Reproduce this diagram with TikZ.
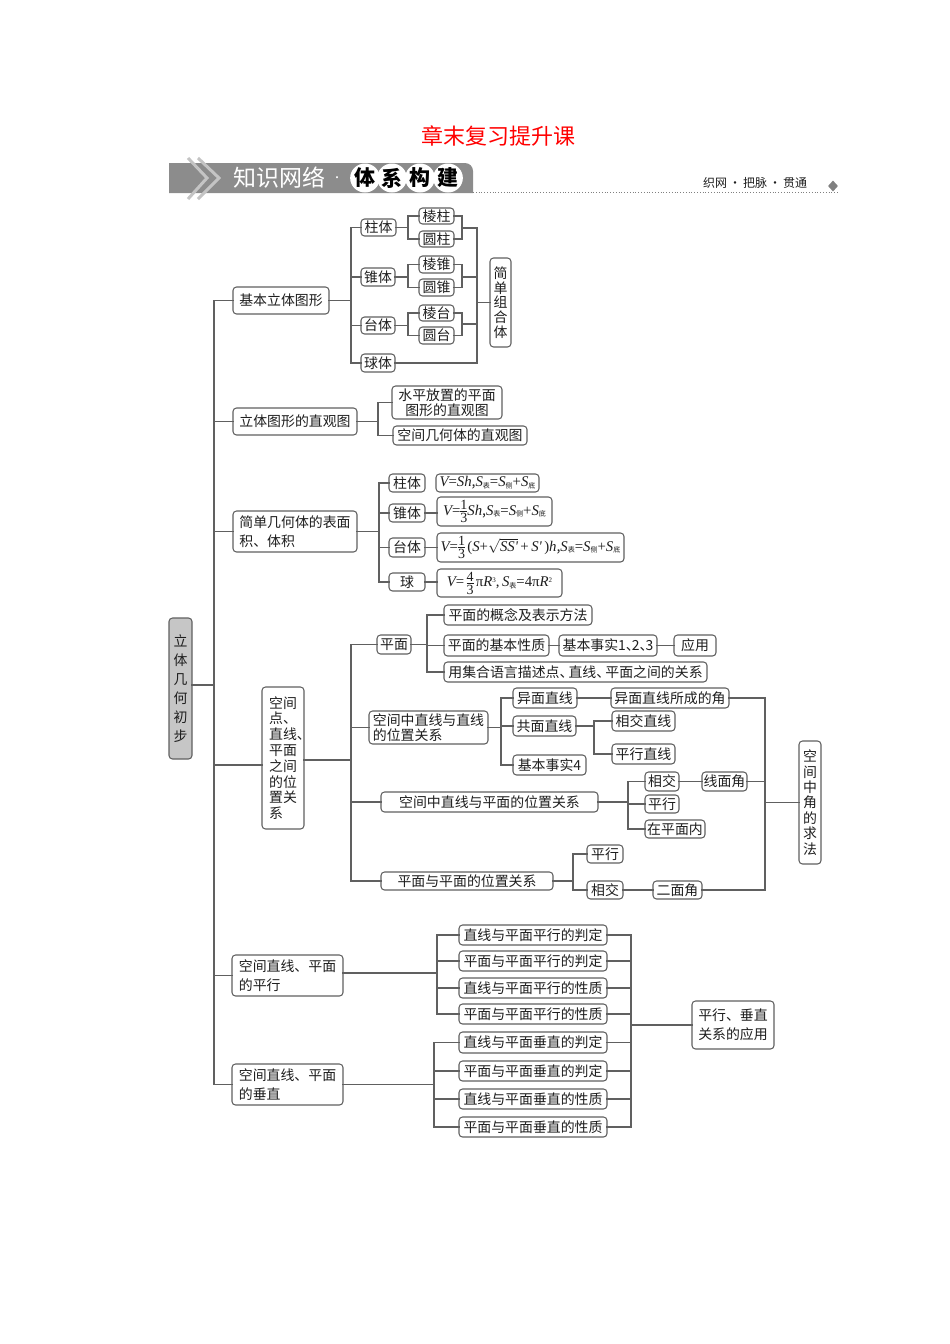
\documentclass[tikz,border=0pt]{standalone}
\usepackage{fontspec}
\setmainfont{Noto Sans CJK SC}
\newfontfamily\lsr{Liberation Serif}
\usetikzlibrary{shapes.geometric}
\definecolor{lnc}{HTML}{606060}
\definecolor{bandc}{HTML}{8C8C8C}
\definecolor{chevc}{HTML}{C4C4C4}
\definecolor{txc}{HTML}{1E1E1E}
\tikzset{
  ln/.style={draw=lnc,line width=1.05pt,line cap=rect},
  boxn/.style={draw=lnc,line width=1.05pt,rounded corners=3.5pt,inner sep=0pt,outer sep=0pt,text=txc,
     font=\fontsize{13.9}{16}\selectfont,fill=white},
  hdr/.style={text=white,font=\fontsize{23}{25}\selectfont,inner sep=0pt},
  bead/.style={ellipse,fill=white,inner sep=0pt,minimum width=26pt,minimum height=29pt,text=black,font=\bfseries\fontsize{21}{23}\selectfont},
}
\newcommand\bx[6][]{\node[boxn,#1,minimum width={(#4-#2)*1pt},minimum height={(#5-#3)*1pt}] (#6) at ({(#2+#4)/2},{(#3+#5)/2})}
\newcommand\fork[5]{%
  \draw[ln] (#1) -- (#1 -| #2);
  \foreach \c in {#3} {\draw[ln] (\c) -- (\c -| #2);}
  \draw[ln] (#4 -| #2) -- (#5 -| #2);}
\newcommand\zs[1]{\raisebox{-1.8pt}{\fontsize{7}{7}\selectfont #1}}
\newcommand\mv[1]{{\lsr\itshape\fontsize{14.8}{16}\selectfont #1}}
\newcommand\mr[1]{{\lsr\fontsize{14.8}{16}\selectfont #1}}
\newcommand\frd[1]{{\lsr\fontsize{14}{14}\selectfont #1}}
\newcommand\frc[2]{$\vcenter{\offinterlineskip\halign{\hfil##\hfil\cr\rule{0pt}{9.8pt}\frd{#1}\cr\noalign{\vskip1.4pt\hrule height .6pt\vskip1.4pt}\rule{0pt}{9.8pt}\frd{#2}\cr}}$}
\newcommand\dn{\makebox[9pt][l]{、}}
\begin{document}
\begin{tikzpicture}[x=1pt,y=-1pt]
\useasboundingbox (0,0) rectangle (950,1344);
% title and banner
\node[text=red,font=\fontsize{22}{24}\selectfont,inner sep=0pt] (title) at (498,136) {章末复习提升课};
\path[fill=bandc] (169,163) -- (465,163) arc[start angle=270,end angle=360,radius=8] -- (473,193) -- (169,193) -- cycle;
\draw[chevc,line width=3pt] (188,158) -- (207,178) -- (188,199);
\draw[chevc,line width=3pt] (198,158) -- (219,178) -- (198,199);
\draw[gray,line width=.8pt,dotted] (473,192) -- (838,192);
\node[hdr] (h1) at (279,178) {知识网络};
\node[hdr,font=\fontsize{10}{10}\selectfont] (h2) at (337,179) {·};
\node[bead] (b1) at (365,178) {体};
\node[bead] (b2) at (392,178) {系};
\node[bead] (b3) at (420,178) {构};
\node[bead] (b4) at (448,178) {建};
\node[inner sep=0pt,font=\fontsize{12}{12}\selectfont,text=txc] (sl) at (755,183) {织网\,·\,把脉\,·\,贯通};
\node[diamond,fill=gray,inner sep=0pt,minimum width=10pt,minimum height=11pt] (dm) at (833,186) {};
% root
\bx[fill=gray!45]{169}{618}{192}{759}{root}[align=center,font=\fontsize{13.9}{19}\selectfont]{立\\体\\几\\何\\初\\步};
% section 1
\bx{233}{287}{329}{314}{jb}{基本立体图形};
\bx{361}{219}{396}{236}{zt}{柱体};
\bx{419}{208}{454}{224}{lz}{棱柱};
\bx{419}{231}{454}{247}{yz}{圆柱};
\bx{361}{268}{395}{286}{zh}{锥体};
\bx{419}{256}{454}{273}{lh}{棱锥};
\bx{419}{279}{454}{296}{yh}{圆锥};
\bx{361}{317}{395}{334}{tt}{台体};
\bx{419}{305}{454}{321}{lt}{棱台};
\bx{419}{327}{454}{344}{yt}{圆台};
\bx{361}{354}{395}{372}{qt}{球体};
\bx{490}{258}{511}{347}{jd}[align=center,font=\fontsize{13.9}{14.6}\selectfont]{简\\单\\组\\合\\体};
\coordinate (a1) at (351,0);
\coordinate (a2) at (408,0);
\coordinate (a3) at (462,0);
\coordinate (a4) at (477,0);
\coordinate (m) at (214,0);
\fork{jb.east}{a1}{zt.west,zh.west,tt.west,qt.west}{zt.west}{qt.west}
\fork{zt.east}{a2}{lz.west,yz.west}{lz.west}{yz.west}
\fork{zh.east}{a2}{lh.west,yh.west}{lh.west}{yh.west}
\fork{tt.east}{a2}{lt.west,yt.west}{lt.west}{yt.west}
\coordinate (j1) at (462,228);
\coordinate (j2) at (462,277);
\coordinate (j3) at (462,324);
\fork{j1}{a3}{lz.east,yz.east}{lz.east}{yz.east}
\fork{j2}{a3}{lh.east,yh.east}{lh.east}{yh.east}
\fork{j3}{a3}{lt.east,yt.east}{lt.east}{yt.east}
\fork{jd.west}{a4}{j1,j2,j3,qt.east}{j1}{qt.east}
% section 2
\bx{233}{408}{357}{435}{zg}{立体图形的直观图};
\bx{392}{386}{502}{419}{sp}[align=center,font=\fontsize{13.9}{15.5}\selectfont]{水平放置的平面\\图形的直观图};
\bx{393}{426}{527}{445}{kj}{空间几何体的直观图};
\coordinate (a5) at (378,0);
\fork{zg.east}{a5}{sp.west,kj.west}{sp.west}{kj.west}
% section 3
\bx{233}{511}{357}{552}{jj}[align=left,font=\fontsize{13.9}{19}\selectfont]{简单几何体的表面\\积、体积};
\bx{389}{474}{425}{492}{z2}{柱体};
\bx{389}{504}{425}{522}{h2b}{锥体};
\bx{389}{538}{425}{557}{t2}{台体};
\bx{389}{573}{425}{591}{q2}{球};
\bx{436}{474}{539}{492}{f1}{\mv{V}\mr{=}\mv{Sh},\mv{S}\zs{表}\mr{=}\mv{S}\zs{侧}\mr{+}\mv{S}\zs{底}};
\bx{437}{497}{552}{526}{f2}{\mv{V}\mr{=}\frc{1}{3}\mv{Sh},\mv{S}\zs{表}\mr{=}\mv{S}\zs{侧}\mr{+}\mv{S}\zs{底}};
\bx{437}{533}{624}{562}{f3}{\mv{V}\mr{=}\frc{1}{3}\,\mr{(}\mv{S}\mr{+}$\sqrt{\mbox{\mv{SS'}}}$\mr{\,+\,}\mv{S'}\mr{\,)}\mv{h},\mv{S}\zs{表}\mr{=}\mv{S}\zs{侧}\mr{+}\mv{S}\zs{底}};
\bx{437}{569}{562}{597}{f4}{\mv{V}\mr{=}\,\frc{4}{3}\,\mr{π}\mv{R}\raisebox{4.5pt}{\fontsize{7}{7}\selectfont\lsr 3}\mr{,\,}\mv{S}\zs{表}\mr{=4π}\mv{R}\raisebox{4.5pt}{\fontsize{7}{7}\selectfont\lsr 2}};
\coordinate (a6) at (379,0);
\fork{jj.east}{a6}{z2.west,h2b.west,t2.west,q2.west}{z2.west}{q2.west}
\draw[ln] (h2b.east) -- (h2b.east -| f2.west);
\draw[ln] (t2.east) -- (t2.east -| f3.west);
\draw[ln] (q2.east) -- (q2.east -| f4.west);
% section 4
\bx{262}{687}{304}{829}{kd}[align=left,font=\fontsize{13.9}{15.8}\selectfont]{空间\\点\rlap{、}\\直线\rlap{、}\\平面\\之间\\的位\\置关\\系};
\bx{377}{635}{411}{654}{pm}{平面};
\bx{444}{605}{592}{625}{gn}{平面的概念及表示方法};
\bx{444}{635}{549}{656}{xz}{平面的基本性质};
\bx{444}{662}{707}{682}{jh}{用集合语言描述点\dn 直线\dn 平面之间的关系};
\bx{559}{635}{657}{656}{ss}{基本事实1\makebox[6pt][l]{、}2\makebox[6pt][l]{、}3};
\bx{674}{635}{716}{656}{yy}{应用};
\bx{369}{711}{488}{744}{zz}[align=left,font=\fontsize{13.9}{14.5}\selectfont]{空间中直线与直线\\的位置关系};
\bx{513}{688}{577}{708}{ym}{异面直线};
\bx{513}{716}{576}{736}{gm}{共面直线};
\bx{513}{755}{586}{775}{s4}{基本事实4};
\bx{611}{688}{729}{708}{yj}{异面直线所成的角};
\bx{612}{711}{675}{731}{xj}{相交直线};
\bx{612}{744}{675}{764}{px}{平行直线};
\bx{381}{792}{598}{812}{zp}{空间中直线与平面的位置关系};
\bx{645}{772}{679}{791}{x1}{相交};
\bx{702}{772}{747}{791}{xm}{线面角};
\bx{645}{795}{679}{813}{p1}{平行};
\bx{645}{820}{705}{838}{zn}{在平面内};
\bx{381}{872}{553}{890}{pp}{平面与平面的位置关系};
\bx{587}{845}{623}{863}{p2}{平行};
\bx{587}{881}{623}{899}{x2}{相交};
\bx{653}{881}{702}{899}{em}{二面角};
\bx{799}{741}{821}{864}{qf}[align=center,font=\fontsize{13.9}{15.4}\selectfont]{空\\间\\中\\角\\的\\求\\法};
\coordinate (a7) at (351,0);
\coordinate (a8) at (427,0);
\coordinate (a9) at (501,0);
\coordinate (a10) at (594,0);
\coordinate (a11) at (628,0);
\coordinate (a12) at (573,0);
\coordinate (a13) at (765,0);
\coordinate (kde) at ([yshift=-2pt]kd.east);
\fork{kde}{a7}{pm.west,zz.west,zp.west,pp.west}{pm.west}{pp.west}
\fork{pm.east}{a8}{gn.west,xz.west,jh.west}{gn.west}{jh.west}
\draw[ln] (xz.east) -- (ss.west);
\draw[ln] (ss.east) -- (yy.west);
\fork{zz.east}{a9}{ym.west,gm.west,s4.west}{ym.west}{s4.west}
\draw[ln] (ym.east) -- (yj.west);
\fork{gm.east}{a10}{xj.west,px.west}{xj.west}{px.west}
\fork{zp.east}{a11}{x1.west,p1.west,zn.west}{x1.west}{zn.west}
\draw[ln] (x1.east) -- (xm.west);
\fork{pp.east}{a12}{p2.west,x2.west}{p2.west}{x2.west}
\draw[ln] (x2.east) -- (em.west);
\fork{qf.west}{a13}{yj.east,xm.east,em.east}{yj.east}{em.east}
% sections 5, 6
\bx{232}{955}{343}{996}{kp}[align=left,font=\fontsize{13.9}{19}\selectfont]{空间直线、平面\\的平行};
\bx{232}{1064}{343}{1105}{kc}[align=left,font=\fontsize{13.9}{19}\selectfont]{空间直线、平面\\的垂直};
\bx{459}{925}{607}{945}{r1}{直线与平面平行的判定};
\bx{459}{951}{607}{971}{r2}{平面与平面平行的判定};
\bx{459}{978}{607}{998}{r3}{直线与平面平行的性质};
\bx{459}{1004}{607}{1024}{r4}{平面与平面平行的性质};
\bx{459}{1032}{607}{1053}{r5}{直线与平面垂直的判定};
\bx{459}{1061}{607}{1081}{r6}{平面与平面垂直的判定};
\bx{459}{1089}{607}{1109}{r7}{直线与平面垂直的性质};
\bx{459}{1117}{607}{1137}{r8}{平面与平面垂直的性质};
\bx{692}{1001}{774}{1049}{ap}[align=left,font=\fontsize{13.9}{19}\selectfont]{平行、垂直\\关系的应用};
\coordinate (a14) at (437,0);
\coordinate (a15) at (434,0);
\coordinate (a16) at (631,0);
\coordinate (kpe) at ([yshift=2.5pt]kp.east);
\fork{kpe}{a14}{r1.west,r2.west,r3.west,r4.west}{r1.west}{r4.west}
\fork{kc.east}{a15}{r5.west,r6.west,r7.west,r8.west}{r5.west}{r8.west}
\fork{ap.west}{a16}{r1.east,r2.east,r3.east,r4.east,r5.east,r6.east,r7.east,r8.east}{r1.east}{r8.east}
% main spine
\coordinate (rte) at ([yshift=3.5pt]root.east);
\coordinate (kdw) at ([yshift=-7pt]kd.west);
\fork{rte}{m}{jb.west,zg.west,jj.west,kdw,kp.west,kc.west}{jb.west}{kc.west}
\end{tikzpicture}
\end{document}
